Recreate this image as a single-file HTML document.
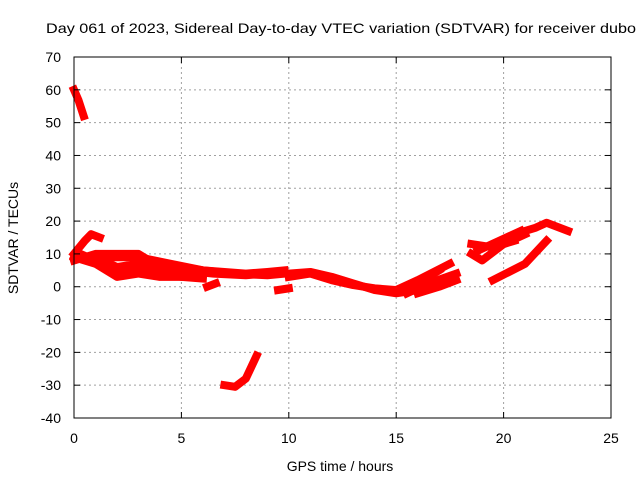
<!DOCTYPE html>
<html><head><meta charset="utf-8"><style>
body{margin:0;background:#fff}
svg{display:block;font-family:"Liberation Sans",sans-serif;font-size:14px}
</style></head><body>
<svg id="c" width="640" height="480">
<rect width="640" height="480" fill="#fff"/>
<g id="grid"></g>
<g id="series"></g>
<rect x="74" y="57" width="537" height="361" fill="none" stroke="#000" stroke-width="1"/>
<g id="ticks"></g>
<text x="46" y="33" textLength="590" lengthAdjust="spacingAndGlyphs">Day 061 of 2023, Sidereal Day-to-day VTEC variation (SDTVAR) for receiver dubo</text>
<text x="340" y="471" text-anchor="middle">GPS time / hours</text>
<text transform="translate(18,238) rotate(-90)" text-anchor="middle">SDTVAR / TECUs</text>
</svg>
<script>
const xTicks=[0,5,10,15,20,25];
const yTicks=[-40,-30,-20,-10,0,10,20,30,40,50,60,70];
const trackA=[[0,60],[0.2,57],[0.45,52]];
const trackB=[[0,8],[1,10],[2,10],[3,10],[3.5,8],[4,7],[5,6],[6,5],[7,4.5],[8,4],[9,4.5],[9.8,5]];
const trackC=[[0,10],[0.5,14],[0.8,16],[1.2,15]];
const trackD=[[0.3,10],[1,8],[1.5,6],[2,4],[2.5,5],[3,6],[4,5],[5,3],[6,2.5]];
const trackE=[[0,9],[1,7],[2,3],[3,4],[4,3],[5,3]];
const trackE2=[[0.5,9],[1.5,9],[3,9],[4.5,7],[6,5],[7.5,4],[9,3.5],[9.8,4]];
const trackE3=[[1,9],[2,6],[3,7],[4,6],[5,5],[6.5,4],[8,3.5],[9,4]];
const trackF=[[6.2,0],[6.6,1]];
const trackG=[[9.5,-1],[10,-0.5]];
const trackH=[[10,4],[11,4.5],[12,3],[13,1],[14,-1],[15,-2],[16,-1],[17,1]];
const trackH2=[[10,3],[11,4],[12,2],[13,0.5],[14,-0.5],[15,-1]];
const trackI=[[7,-30],[7.5,-30.5],[8,-28],[8.5,-21]];
const trackJ=[[15,-1],[16,2],[17.5,7]];
const trackK=[[15.5,-2],[16.5,1],[17.8,4]];
const trackL=[[16,-2],[17,0],[17.8,2]];
const trackM=[[16,1],[17,5]];
const trackN=[[18.5,10],[19,8],[20,13],[21,16]];
const trackO=[[18.5,13],[19.5,12],[20.5,14]];
const trackO2=[[18.8,11],[19.8,14],[20.8,17]];
const trackP=[[19.5,2],[21,7],[22,14]];
const trackQ=[[20,14],[21,17],[21.5,18],[22,19.5],[23,17]];
const series=[trackA,trackB,trackC,trackD,trackE,trackE2,trackE3,trackF,trackG,trackH,trackH2,trackI,trackJ,trackK,trackL,trackM,trackN,trackO,trackO2,trackP,trackQ];
const NS='http://www.w3.org/2000/svg';
const X=h=>74+h*537/25, Y=v=>418-(v+40)*361/110;
const grid=document.getElementById('grid'),ticks=document.getElementById('ticks'),sg=document.getElementById('series');
function mk(tag,attrs,parent){const e=document.createElementNS(NS,tag);for(const k in attrs)e.setAttribute(k,attrs[k]);parent.appendChild(e);return e;}
xTicks.forEach(t=>{const x=X(t);
 if(t>0&&t<25){const l=mk('line',{x1:x,x2:x,y1:57,y2:418,stroke:'#a0a0a0','stroke-dasharray':'2,3'},grid);}
 const a=mk('line',{x1:x,x2:x,y1:418,y2:412,stroke:'#000'},ticks);
 const b=mk('line',{x1:x,x2:x,y1:57,y2:63,stroke:'#000'},ticks);
 const tx=mk('text',{x:x,y:443,'text-anchor':'middle'},ticks);tx.textContent=t;});
yTicks.forEach(t=>{const y=Y(t);
 if(t>-40&&t<70){const l=mk('line',{x1:74,x2:611,y1:y,y2:y,stroke:'#a0a0a0','stroke-dasharray':'2,3'},grid);}
 const a=mk('line',{x1:74,x2:80,y1:y,y2:y,stroke:'#000'},ticks);
 const b=mk('line',{x1:605,x2:611,y1:y,y2:y,stroke:'#000'},ticks);
 const tx=mk('text',{x:61,y:y+5,'text-anchor':'end'},ticks);tx.textContent=t;});
series.forEach(s=>{const p=mk('polyline',{points:s.map(d=>X(d[0])+','+Y(d[1])).join(' '),fill:'none',stroke:'#ff0000','stroke-width':8,'stroke-linejoin':'round','stroke-linecap':'square'},sg);
 
 });
</script>
</body></html>
